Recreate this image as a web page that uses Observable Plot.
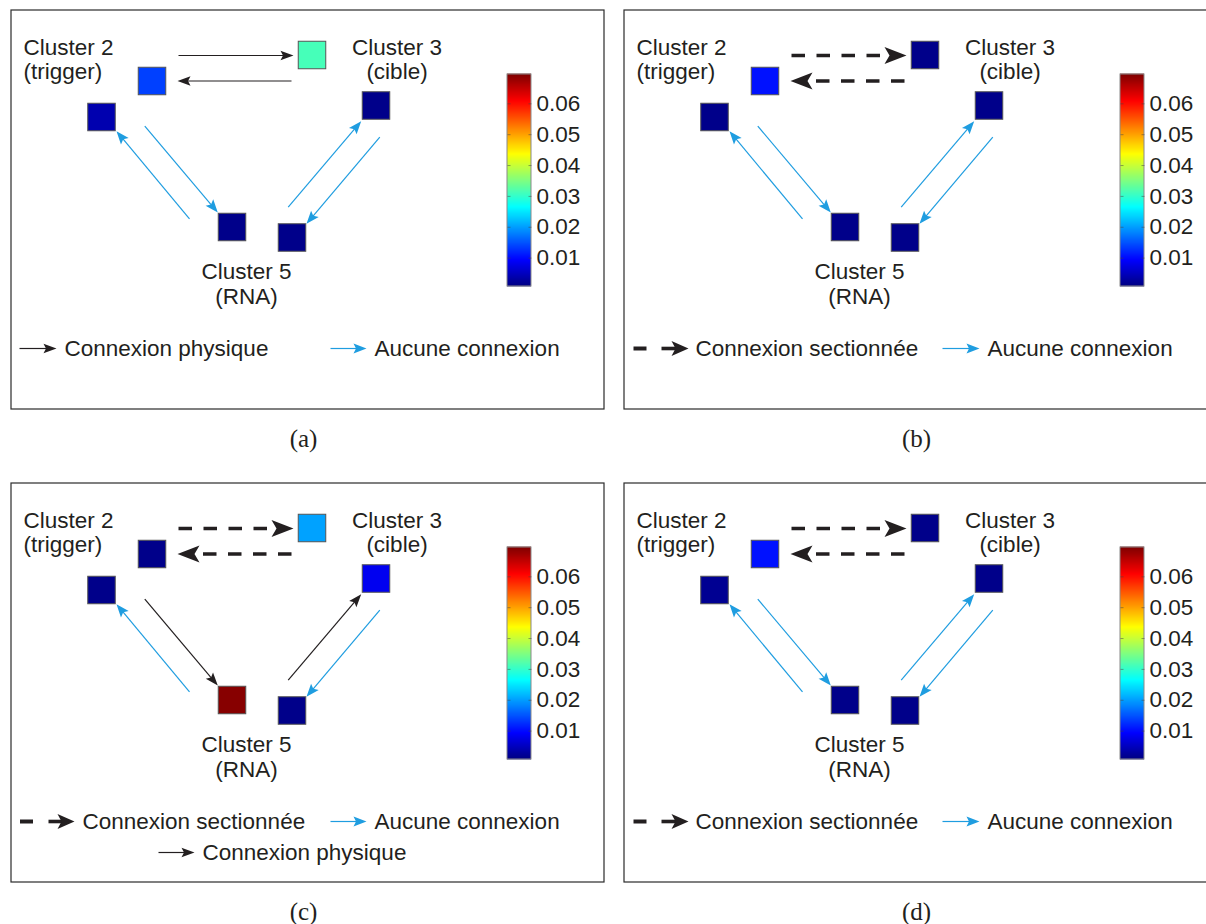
<!DOCTYPE html>
<html><head><meta charset="utf-8">
<script src="https://cdn.jsdelivr.net/npm/d3@7"></script>
<script src="https://cdn.jsdelivr.net/npm/@observablehq/plot@0.6"></script>
<style>html,body{margin:0;padding:0;background:#fff;overflow:hidden}</style>
</head><body><div id="chart"></div>
<script>
// ---------- data ----------
const panels = ["a", "b", "c", "d"];
const panelCol = [0, 1, 0, 1];
const panelRow = [0, 0, 1, 1];
const captions = ["(a)", "(b)", "(c)", "(d)"];

// cluster squares (diagram layout, relative to panel corner)
const nodeIds = ["c2top", "c3top", "c2low", "c3low", "c5left", "c5right"];
const nodeX = [141, 301, 90.5, 365, 221, 281];
const nodeY = [71, 45, 107, 95.5, 217, 227.5];
const nodeValues = {
  a: [0.0137, 0.0313, 0.0040, 0.0015, 0.0015, 0.0015],
  b: [0.0105, 0.0015, 0.0015, 0.0015, 0.0015, 0.0015],
  c: [0.0015, 0.0203, 0.0015, 0.0084, 0.0690, 0.0015],
  d: [0.0105, 0.0015, 0.0020, 0.0015, 0.0015, 0.0015]
};

// connections (start -> tip)
const arrowIds = ["T1", "T2", "A1", "A2", "A3", "A4"];
const arrowX1 = [167, 280, 178, 133.3, 276.7, 368.3];
const arrowY1 = [45, 70.5, 208.3, 115.7, 196.7, 126.7];
const arrowX2 = [282, 166, 105, 206.3, 349.7, 295];
const arrowY2 = [45, 70.5, 120.7, 202, 110.7, 213.3];
const arrowStyles = {
  a: ["solid", "solid", "blue", "blue", "blue", "blue"],
  b: ["dashed", "dashed", "blue", "blue", "blue", "blue"],
  c: ["dashed", "dashed", "blue", "solid", "solid", "blue"],
  d: ["dashed", "dashed", "blue", "blue", "blue", "blue"]
};

// cluster labels
const labelText = ["Cluster 2", "(trigger)", "Cluster 3", "(cible)", "Cluster 5", "(RNA)"];
const labelX = [12, 12, 385.5, 385.5, 235, 235];
const labelY = [37, 61.3, 37, 61.3, 261.3, 286.3];
const labelAlign = ["start", "start", "middle", "middle", "middle", "middle"];

// colour bar
const colorDomain = [0.0008, 0.0695];
const colorTicks = [0.01, 0.02, 0.03, 0.04, 0.05, 0.06];
const colorTickLabels = ["0.01", "0.02", "0.03", "0.04", "0.05", "0.06"];
const jetStops = [0, 0.125, 0.375, 0.625, 0.875, 1];
const jetColors = ["#000080", "#0000ff", "#00ffff", "#ffff00", "#ff0000", "#800000"];

// legends
const legendArrows = {
  a: [{style: "solid", x1: 8, x2: 45, y: 338}, {style: "blue", x1: 319, x2: 355, y: 338}],
  b: [{style: "dashedLegend", x1: 37, x2: 64, y: 338}, {style: "blue", x1: 318, x2: 355, y: 338}],
  c: [{style: "dashedLegend", x1: 37, x2: 63, y: 338}, {style: "blue", x1: 319, x2: 355, y: 338},
      {style: "solid", x1: 147, x2: 183, y: 369}],
  d: [{style: "dashedLegend", x1: 37, x2: 64, y: 338}, {style: "blue", x1: 318, x2: 355, y: 338}]
};
const legendDashes = {
  a: [],
  b: [{x1: 9, x2: 22, y: 338}],
  c: [{x1: 8.5, x2: 21.5, y: 338}],
  d: [{x1: 9, x2: 22, y: 338}]
};
const legendTexts = {
  a: [{t: "Connexion physique", x: 53, y: 338}, {t: "Aucune connexion", x: 363, y: 338}],
  b: [{t: "Connexion sectionnée", x: 71, y: 338}, {t: "Aucune connexion", x: 363, y: 338}],
  c: [{t: "Connexion sectionnée", x: 71, y: 338}, {t: "Aucune connexion", x: 363, y: 338},
      {t: "Connexion physique", x: 191, y: 369}],
  d: [{t: "Connexion sectionnée", x: 71, y: 338}, {t: "Aucune connexion", x: 363, y: 338}]
};

// ---------- layout / style ----------
const W = 1206, H = 924;
const PX0 = 11, PY0 = 10, PDX = 613, PDY = 473, PW = 593, PH = 399;
const SQ = 27.5;
const CB = {x1: 496, x2: 520, top: 64, bottom: 276, labelX: 525};
const CAPTION = {x: 292, y: 428};
const BLACK = "#231f20", BLUE = "#1f9de0";
const SANS = "Liberation Sans, Arial, Helvetica, sans-serif";
const SERIF = "Liberation Serif, Times New Roman, serif";
const FS = 22.5;
const HEAD = {
  solid: {L: 13, W: 9.5, notch: 2.5, color: BLACK, sw: 1.2},
  blue: {L: 13, W: 10, notch: 2.5, color: BLUE, sw: 1.2},
  dashed: {L: 22, W: 17, notch: 5, color: BLACK, sw: 3.6},
  dashedLegend: {L: 17, W: 15, notch: 4, color: BLACK, sw: 3.6}
};
function headSymbol(h) {
  return {
    draw(ctx, size) {
      const s = Math.sqrt(size / Math.PI) / h.L;
      ctx.moveTo(0, 0);
      ctx.lineTo(-h.L * s, -h.W / 2 * s);
      ctx.lineTo(-(h.L - h.notch) * s, 0);
      ctx.lineTo(-h.L * s, h.W / 2 * s);
      ctx.closePath();
    }
  };
}

// ---------- tables ----------
const frames = panels.map((p, i) => ({p, cap: captions[i], ox: PX0 + panelCol[i] * PDX, oy: PY0 + panelRow[i] * PDY}));

const nodeTable = frames.flatMap(f => nodeIds.map((id, j) => ({
  id, cx: f.ox + nodeX[j], cy: f.oy + nodeY[j], value: nodeValues[f.p][j]
})));

function withGeom(d) {
  const h = HEAD[d.style];
  const dx = d.x2 - d.x1, dy = d.y2 - d.y1, len = Math.hypot(dx, dy);
  const back = h.L * 0.55;
  return {...d, sx2: d.x2 - dx / len * back, sy2: d.y2 - dy / len * back,
          angle: Math.atan2(dy, dx) * 180 / Math.PI};
}

const arrowTable = frames.flatMap(f => arrowIds.map((id, j) => withGeom({
  style: arrowStyles[f.p][j],
  x1: f.ox + arrowX1[j], y1: f.oy + arrowY1[j],
  x2: f.ox + arrowX2[j], y2: f.oy + arrowY2[j]
})));
const legendArrowTable = frames.flatMap(f => legendArrows[f.p].map(d => withGeom({
  style: d.style, x1: f.ox + d.x1, y1: f.oy + d.y, x2: f.ox + d.x2, y2: f.oy + d.y
})));
const allArrows = arrowTable.concat(legendArrowTable);
const legendDashTable = frames.flatMap(f => legendDashes[f.p].map(d => ({
  x1: f.ox + d.x1, x2: f.ox + d.x2, y: f.oy + d.y
})));
const legendTextTable = frames.flatMap(f => legendTexts[f.p].map(d => ({
  t: d.t, x: f.ox + d.x, y: f.oy + d.y
})));
const labelTable = frames.flatMap(f => labelText.map((t, j) => ({
  t, x: f.ox + labelX[j], y: f.oy + labelY[j], align: labelAlign[j]
})));

// colour bar helper: value -> vertical position inside bar
const [d0, d1] = colorDomain;
const cbPos = v => CB.bottom - (v - d0) / (d1 - d0) * (CB.bottom - CB.top);
const nStrips = 212;
const stripVals = d3.range(nStrips).map(i => d0 + (i + 0.5) / nStrips * (d1 - d0));
const stripTable = frames.flatMap(f => stripVals.map(v => ({
  v, x1: f.ox + CB.x1, x2: f.ox + CB.x2,
  y1: f.oy + cbPos(v + (d1 - d0) / nStrips / 2) - 0.4,
  y2: f.oy + cbPos(v - (d1 - d0) / nStrips / 2) + 0.4
})));
const cbFrameTable = frames.map(f => ({x1: f.ox + CB.x1, x2: f.ox + CB.x2, y1: f.oy + CB.top, y2: f.oy + CB.bottom}));
const cbTickTable = frames.flatMap(f => colorTicks.map((v, k) => ({
  v, label: colorTickLabels[k], ox: f.ox, y: f.oy + cbPos(v)
})));

// ---------- marks ----------
const marks = [];
// panel frames
marks.push(Plot.rect(frames, {x1: d => d.ox, x2: d => d.ox + PW, y1: d => d.oy, y2: d => d.oy + PH,
  fill: "none", stroke: "#2b2b2b", strokeWidth: 1.2}));

// shafts and heads
for (const style of ["solid", "blue", "dashed", "dashedLegend"]) {
  const h = HEAD[style];
  const isDiagDashed = style === "dashed";
  marks.push(Plot.link(allArrows.filter(d => d.style === style), {
    x1: "x1", y1: "y1", x2: "sx2", y2: "sy2",
    stroke: h.color, strokeWidth: h.sw,
    strokeDasharray: isDiagDashed ? "13.5,11.5" : null
  }));
  marks.push(Plot.dot(allArrows.filter(d => d.style === style), {
    x: "x2", y: "y2", rotate: "angle", r: h.L, symbol: headSymbol(h),
    fill: h.color, stroke: "none"
  }));
}
// legend short dash
marks.push(Plot.link(legendDashTable, {x1: "x1", x2: "x2", y1: "y", y2: "y", stroke: BLACK, strokeWidth: 4}));

// cluster squares
marks.push(Plot.rect(nodeTable, {
  x1: d => d.cx - SQ / 2, x2: d => d.cx + SQ / 2, y1: d => d.cy - SQ / 2, y2: d => d.cy + SQ / 2,
  fill: "value", stroke: "#555", strokeWidth: 1
}));

// cluster labels
for (const align of ["start", "middle"]) {
  marks.push(Plot.text(labelTable.filter(d => d.align === align), {
    x: "x", y: "y", text: "t", textAnchor: align, fontSize: FS, fontFamily: SANS, fill: BLACK
  }));
}

// colour bar
marks.push(Plot.rect(stripTable, {x1: "x1", x2: "x2", y1: "y1", y2: "y2", fill: "v"}));
marks.push(Plot.rect(cbFrameTable, {x1: "x1", x2: "x2", y1: "y1", y2: "y2", fill: "none", stroke: "#8a8a8a", strokeWidth: 1}));
marks.push(Plot.link(cbTickTable, {x1: d => d.ox + CB.x1, x2: d => d.ox + CB.x1 + 3, y1: "y", y2: "y", stroke: "#444", strokeOpacity: 0.5}));
marks.push(Plot.link(cbTickTable, {x1: d => d.ox + CB.x2 - 3, x2: d => d.ox + CB.x2, y1: "y", y2: "y", stroke: "#444", strokeOpacity: 0.5}));
marks.push(Plot.text(cbTickTable, {x: d => d.ox + CB.labelX, y: "y", text: "label", textAnchor: "start",
  fontSize: FS, fontFamily: SANS, fill: BLACK}));

// legend texts
marks.push(Plot.text(legendTextTable, {x: "x", y: "y", text: "t", textAnchor: "start",
  fontSize: FS, fontFamily: SANS, fill: BLACK}));

// captions
marks.push(Plot.text(frames, {x: d => d.ox + CAPTION.x, y: d => d.oy + CAPTION.y, text: "cap",
  fontSize: 25, fontFamily: SERIF, fill: BLACK}));

const chart = Plot.plot({
  width: W, height: H, margin: 0,
  x: {type: "linear", domain: [0, W], range: [0, W], axis: null},
  y: {type: "linear", domain: [0, H], range: [0, H], axis: null},
  color: {type: "linear", domain: jetStops.map(t => d0 + t * (d1 - d0)), range: jetColors, interpolate: "rgb"},
  style: {background: "#fff"},
  marks
});
document.getElementById("chart").appendChild(chart);
</script>
</body></html>
